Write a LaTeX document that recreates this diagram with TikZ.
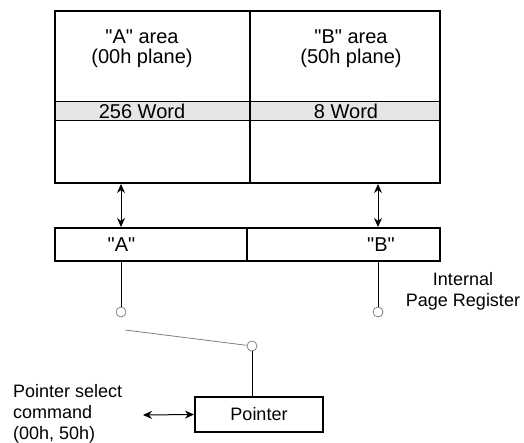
\documentclass[tikz,border=0pt]{standalone}
\usepackage{fontspec}
\setmainfont{Liberation Sans}[Ligatures=TeXOff]
\usetikzlibrary{arrows.meta,positioning,calc}

\begin{document}
\begin{tikzpicture}[x=1pt, y=-1pt,
      font=\fontsize{18}{21}\selectfont,
      big/.style={font=\fontsize{20}{20}\selectfont},
      box/.style={draw, line width=2pt, inner sep=0pt},
      band/.style={draw, line width=1pt, fill=gray!20, inner sep=0pt, minimum height=19pt},
      txt/.style={align=center, inner sep=0pt},
      pin/.style={circle, draw=gray, line width=0.8pt, minimum size=10pt, inner sep=0pt},
      dbl/.style={{Stealth[length=9pt,width=8pt]}-{Stealth[length=9pt,width=8pt]}, line width=1pt}]
      \useasboundingbox (0,0) rectangle (524,443);

      % memory planes
      \node[band, minimum width=195pt] (bandA) at (152.5,111.5) {};
      \node[band, minimum width=190pt] (bandB) at (345,111.5) {};
      \node[box, minimum width=195pt, minimum height=172pt] (areaA) at (152.5,97) {};
      \node[box, minimum width=190pt, minimum height=172pt] (areaB) at (345,97) {};
      \node[txt, big] (areaAtxt) at (142,49) {"A" area\\(00h plane)};
      \node[txt, big] (areaBtxt) at (351,49) {"B" area\\(50h plane)};
      \node[txt, big] (wordA) at (142,111.5) {256 Word};
      \node[txt, big] (wordB) at (346,111.5) {8 Word};

      % page register
      \node[box, minimum width=192pt, minimum height=33pt] (regAbox) at (151,244.5) {};
      \node[box, minimum width=193pt, minimum height=33pt] (regBbox) at (343.5,244.5) {};
      \node[txt, big] (regA) at (121.5,244.5) {"A"};
      \node[txt, big] (regB) at (381,244.5) {"B"};
      \node[txt] (regtxt) at (463,291) {Internal\\Page Register};

      % switch
      \node[pin] (pinA) at (121,312) {};
      \node[pin] (pinB) at (378,312) {};
      \node[pin] (pinP) at (252,346) {};
      \coordinate (swTip) at (125,330);
      \node[box, minimum width=128pt, minimum height=35pt] (ptr) at (259,414.5) {Pointer};
      \node[align=left, anchor=west, inner sep=0pt] (cmdtxt) at (13,414) {Pointer select\\command\\(00h, 50h)};
      \coordinate (cmd) at (143,415);

      \draw[dbl] (pinA |- areaA.south) -- (pinA |- regAbox.north);
      \draw[dbl] (pinB |- areaB.south) -- (pinB |- regBbox.north);
      \draw[line width=1pt] (pinA |- regAbox.south) -- (pinA);
      \draw[line width=1pt] (pinB |- regBbox.south) -- (pinB);
      \draw[gray, line width=0.8pt] (swTip) -- (pinP);
      \draw[line width=1pt] (pinP) -- (pinP |- ptr.north);
      \draw[dbl] (cmd) -- (ptr.west);
\end{tikzpicture}
\end{document}
